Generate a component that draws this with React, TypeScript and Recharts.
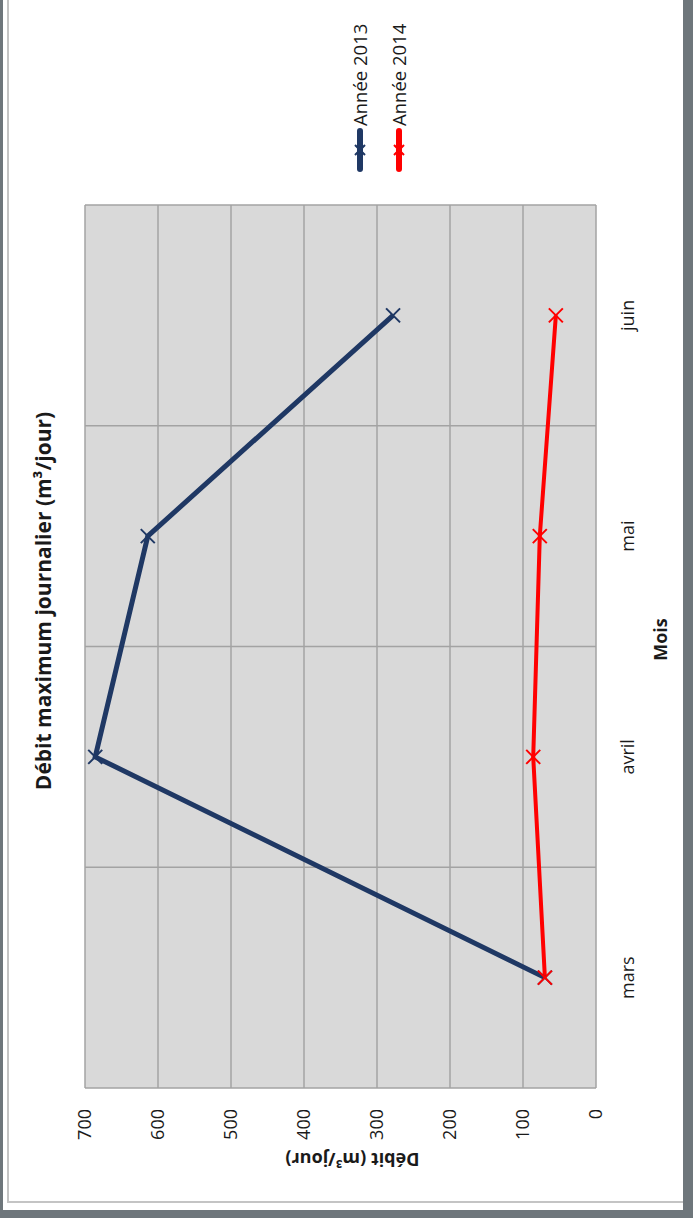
import React from 'react'
import { LineChart, Line, XAxis, YAxis, CartesianGrid, Legend } from 'recharts'

// valeurs
const mois = ['mars', 'avril', 'mai', 'juin']
const annee2013 = [70, 686, 614, 278]
const annee2014 = [70, 86, 77, 55]
const yTicks = [0, 100, 200, 300, 400, 500, 600, 700]

const series = [
  { key: 'a2013', name: 'Année 2013', color: '#1f3864', width: 5 },
  { key: 'a2014', name: 'Année 2014', color: '#ff0000', width: 4 },
]

const data = mois.map((m, i) => ({ month: m, a2013: annee2013[i], a2014: annee2014[i] }))

const FONT = "'Open Sans', 'Noto Sans', sans-serif"

const cross = (color: string) => (props: any) => {
  const { cx, cy, index } = props
  const r = 7
  return (
    <path
      key={`x-${color}-${index}`}
      d={`M${cx - r},${cy - r}L${cx + r},${cy + r}M${cx - r},${cy + r}L${cx + r},${cy - r}`}
      stroke={color}
      strokeWidth={2}
      fill="none"
    />
  )
}

const LegendBox = () => (
  <div style={{ fontFamily: FONT, fontSize: 18.5, color: '#1a1a1a' }}>
    {series.map((s) => (
      <div key={s.key} style={{ height: 39, display: 'flex', alignItems: 'center' }}>
        <svg width={44} height={16} style={{ marginRight: 2 }}>
          <line x1={3} y1={8} x2={41} y2={8} stroke={s.color} strokeWidth={6} strokeLinecap="round" />
          <path d="M17,3L27,13M17,13L27,3" stroke={s.color} strokeWidth={2} />
        </svg>
        <span>{s.name}</span>
      </div>
    ))}
  </div>
)

export default function App() {
  return (
    <div style={{ position: 'absolute', left: 0, top: 0, width: 693, height: 1218, background: '#6e767b', overflow: 'hidden' }}>
      <div style={{ position: 'absolute', left: 3, top: 0, width: 680, height: 1210, background: '#fff' }} />
      <div style={{ position: 'absolute', left: 7, top: -2, width: 676, height: 1205, borderLeft: '2px solid #c4c4c4', borderBottom: '2px solid #c4c4c4', boxSizing: 'border-box' }} />
      <div
        style={{
          position: 'absolute',
          left: 0,
          top: 0,
          width: 1218,
          height: 693,
          transformOrigin: '0 0',
          transform: 'translate(0px, 1218px) rotate(-90deg)',
        }}
      >
        <div
          style={{
            position: 'absolute',
            left: 0,
            top: 29,
            width: 1234,
            textAlign: 'center',
            fontFamily: FONT,
            fontWeight: 'bold',
            fontSize: 21,
            lineHeight: '28px',
            color: '#1a1a1a',
          }}
        >
          Débit maximum journalier (m³/jour)
        </div>
        <LineChart width={1218} height={693} data={data} margin={{ top: 85, right: 205, bottom: 20, left: 0 }}>
          <CartesianGrid
            fill="#d9d9d9"
            stroke="#a3a3a3"
            strokeWidth={1.5}
            verticalCoordinatesGenerator={({ offset }: any) =>
              mois.concat(['']).map((_, i) => offset.left + (i * offset.width) / mois.length)
            }
          />
          <XAxis
            dataKey="month"
            scale="band"
            height={77}
            axisLine={false}
            tickLine={false}
            tickMargin={19}
            tick={{ fontFamily: FONT, fontSize: 18, fill: '#1a1a1a' }}
            label={{ value: 'Mois', position: 'insideBottom', offset: 6, dx: 7, fontFamily: FONT, fontSize: 18, fontWeight: 'bold', fill: '#1a1a1a' }}
          />
          <YAxis
            width={130}
            domain={[0, 700]}
            ticks={yTicks}
            axisLine={false}
            tickLine={false}
            tickMargin={15}
            tick={{ fontFamily: FONT, fontSize: 18, fill: '#1a1a1a' }}
            label={{ value: 'Débit (m³/jour)', angle: -90, position: 'center', dx: -6, dy: 12, fontFamily: FONT, fontSize: 18, fontWeight: 'bold', fill: '#1a1a1a' }}
          />
          <Legend
            layout="vertical"
            align="center"
            verticalAlign="middle"
            content={<LegendBox />}
            wrapperStyle={{ left: 1046, top: 340, width: 172, height: 78 }}
          />
          {series.map((s) => (
            <Line
              key={s.key}
              type="linear"
              dataKey={s.key}
              name={s.name}
              stroke={s.color}
              strokeWidth={s.width}
              dot={cross(s.color)}
              activeDot={false}
              isAnimationActive={false}
            />
          ))}
        </LineChart>
      </div>
    </div>
  )
}
